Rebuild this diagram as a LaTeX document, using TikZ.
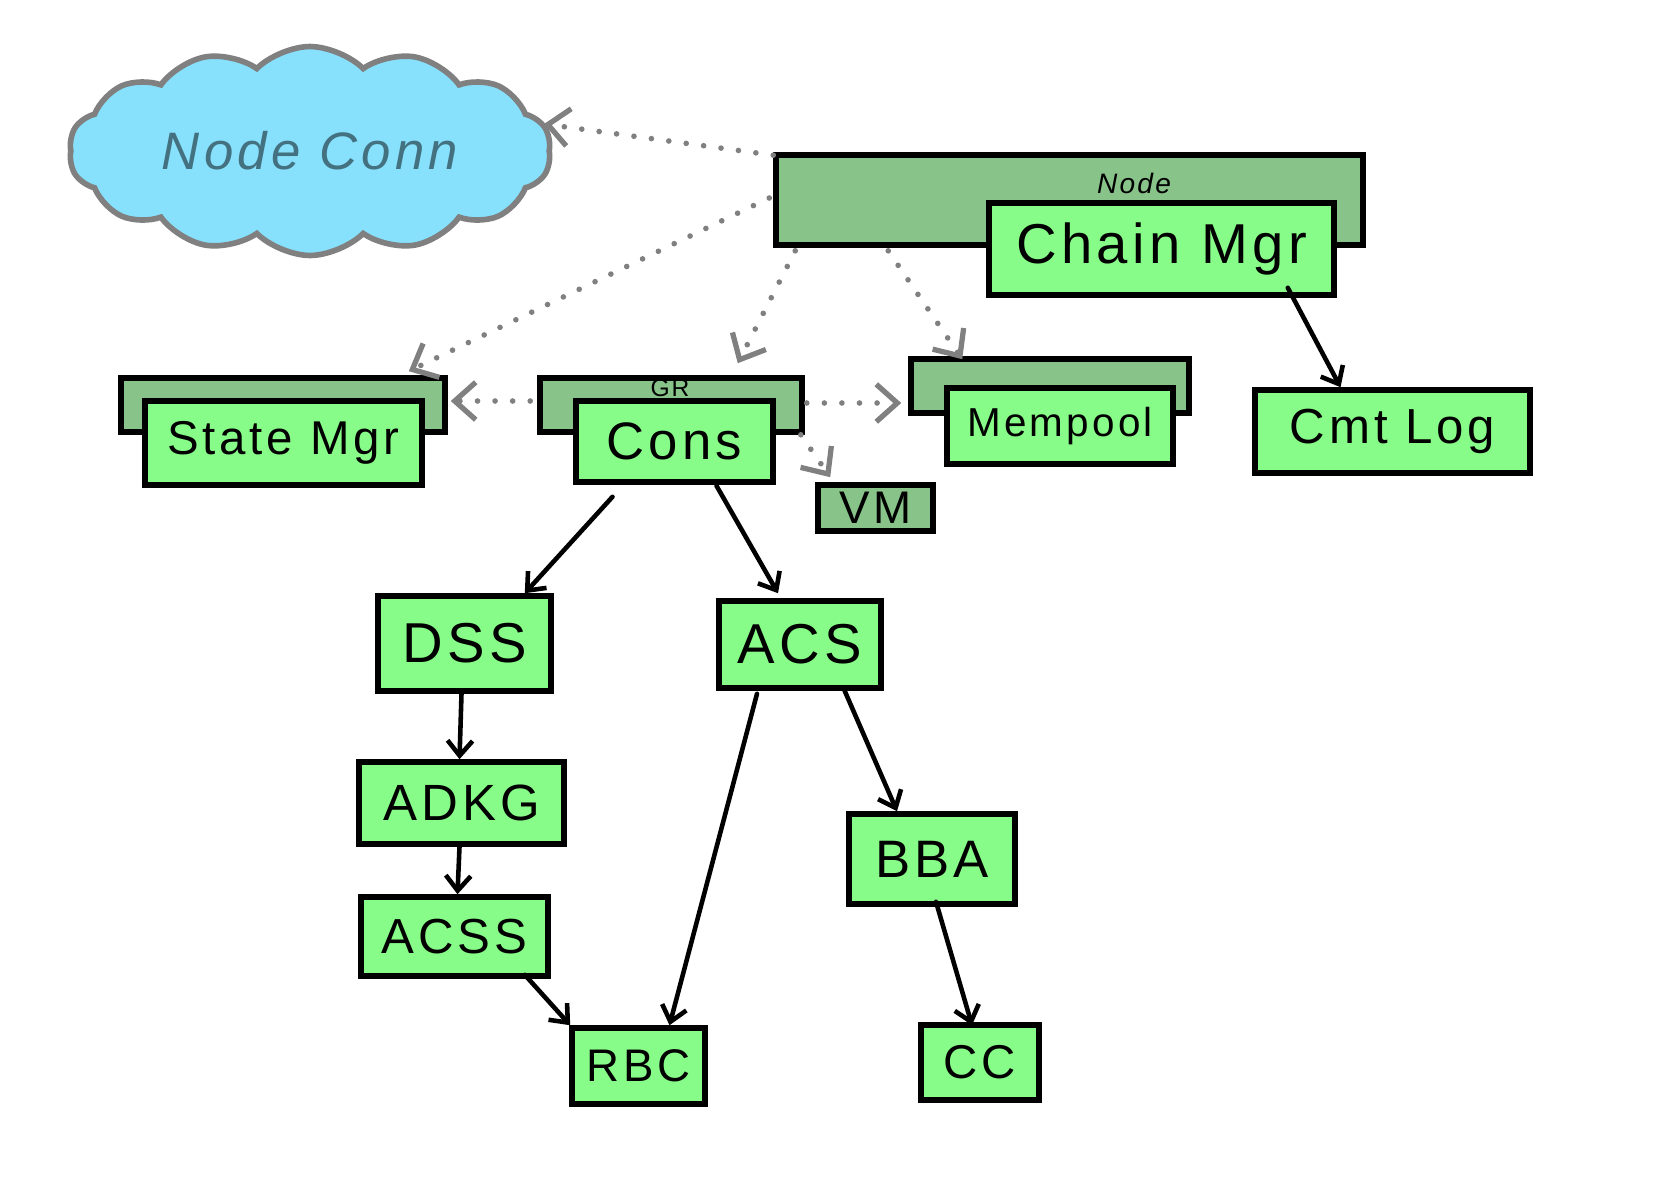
\documentclass[tikz,border=0pt]{standalone}
\usepackage{fontspec}
\setmainfont{Liberation Sans}[LetterSpace=8]
\usetikzlibrary{shapes.symbols,arrows.meta,calc}
\definecolor{lgreen}{RGB}{136,252,136}
\definecolor{dgreen}{RGB}{136,195,138}
\definecolor{cloudblue}{RGB}{135,224,252}
\definecolor{cloudtext}{RGB}{68,113,127}
\definecolor{linegray}{RGB}{128,128,128}
\tikzset{
  box/.style={draw=black,line width=3.2pt,fill=lgreen,inner sep=0pt,rectangle},
  outerbox/.style={draw=black,line width=3.2pt,fill=dgreen,inner sep=0pt,rectangle},
  dotarrow/.style={draw=linegray,line width=3.2pt,line cap=round,dash pattern=on 0pt off 10pt,
    -{Straight Barb[length=0.42cm,width=0.75cm,line width=3pt]}},
  solidarrow/.style={draw=black,line width=2.6pt,line cap=round,
    -{Straight Barb[length=0.3cm,width=0.5cm,line width=2.6pt]}}
}
\begin{document}
\begin{tikzpicture}[x=0.02cm,y=-0.02cm]
\useasboundingbox (0,0) rectangle (1654,1181);
\fill[white] (0,0) rectangle (1654,1181);

% cloud
\node[cloud,cloud puffs=14,cloud puff arc=90,aspect=2.4,draw=linegray,line width=3.2pt,
  fill=cloudblue,minimum width=9.64cm,minimum height=4.18cm,inner sep=0pt,text=cloudtext,
  font=\fontsize{30}{30}\selectfont\itshape] (conn) at (310,151) {Node Conn};

% Node group
\node[outerbox,minimum width=11.74cm,minimum height=1.8cm] (nodeouter) at (1069.5,200) {};
\node[font=\fontsize{16}{16}\selectfont\itshape] (nodelbl) at (1134,183) {Node};
\node[box,minimum width=6.9cm,minimum height=1.84cm,font=\fontsize{32}{32}\selectfont] (chain) at (1161.5,249) {Chain Mgr};

% State Mgr
\node[outerbox,minimum width=6.48cm,minimum height=1.08cm] (smouter) at (283,405) {};
\node[box,minimum width=5.54cm,minimum height=1.68cm,font=\fontsize{27}{27}\selectfont] (sm) at (283.5,443) {State Mgr};

% GR / Cons
\node[outerbox,minimum width=5.24cm,minimum height=1.08cm] (grouter) at (671,405) {};
\node[font=\fontsize{14}{14}\selectfont] (grlbl) at (670,388) {GR};
\node[box,minimum width=3.94cm,minimum height=1.62cm,font=\fontsize{30}{30}\selectfont] (cons) at (674.5,441.5) {Cons};

% Mempool
\node[outerbox,minimum width=5.56cm,minimum height=1.08cm] (mpouter) at (1050,386) {};
\node[box,minimum width=4.52cm,minimum height=1.52cm,font=\fontsize{23}{23}\selectfont] (mp) at (1060,426) {Mempool};

% VM
\node[outerbox,minimum width=2.3cm,minimum height=0.92cm,font=\fontsize{26}{26}\selectfont] (vm) at (875.5,508) {VM};

% Cmt Log
\node[box,minimum width=5.5cm,minimum height=1.66cm,font=\fontsize{28}{28}\selectfont] (cmt) at (1392.5,431.5) {Cmt Log};

% lower nodes
\node[box,minimum width=3.46cm,minimum height=1.9cm,font=\fontsize{32}{32}\selectfont] (dss) at (464.5,643.5) {DSS};
\node[box,minimum width=3.24cm,minimum height=1.74cm,font=\fontsize{32}{32}\selectfont] (acs) at (800,644.5) {ACS};
\node[box,minimum width=4.1cm,minimum height=1.64cm,font=\fontsize{29}{29}\selectfont] (adkg) at (461.5,803) {ADKG};
\node[box,minimum width=3.74cm,minimum height=1.58cm,font=\fontsize{28}{28}\selectfont] (acss) at (454.5,936.5) {ACSS};
\node[box,minimum width=2.66cm,minimum height=1.52cm,font=\fontsize{26}{26}\selectfont] (rbc) at (638.5,1066) {RBC};
\node[box,minimum width=3.32cm,minimum height=1.8cm,font=\fontsize{30}{30}\selectfont] (bba) at (932,859) {BBA};
\node[box,minimum width=2.36cm,minimum height=1.5cm,font=\fontsize{27}{27}\selectfont] (cc) at (980,1062.5) {CC};

% dotted connectors
\draw[dotarrow] ($(nodeouter.north west)+(0,3)$) -- ($(conn.east)+(-8,-27)$);
\draw[dotarrow] ($(nodeouter.west)+(-4,-2)$) -- ($(smouter.north east)+(-39,-4)$);
\draw[dotarrow] ($(nodeouter.south west)+(22,3)$) -- ($(grouter.north east)+(-67,-12)$);
\draw[dotarrow] ($(nodeouter.south west)+(115,3)$) -- ($(mpouter.north west)+(54,3)$);
\draw[dotarrow] ($(grouter.west)+(-7,-4)$) -- ($(smouter.east)+(3,-4)$);
\draw[dotarrow] ($(grouter.east)+(2,-2)$) -- ($(mpouter.west)+(-7,17)$);
\draw[dotarrow] ($(grouter.south east)+(-4,0)$) -- ($(vm.north west)+(15,-5)$);

% solid connectors
\draw[solidarrow] ($(chain.south east)+(-49,-10)$) -- ($(cmt.north)+(-52,0)$);
\draw[solidarrow] ($(cons.south)+(-62,12)$) -- ($(dss.north east)+(-29,0)$);
\draw[solidarrow] ($(cons.south)+(42,1)$) -- ($(acs.north)+(-22,-5)$);
\draw[solidarrow] ($(dss.south)+(-3,0)$) -- ($(adkg.north)+(-2,0)$);
\draw[solidarrow] ($(adkg.south)+(-2,0)$) -- ($(acss.north)+(3,0)$);
\draw[solidarrow] ($(acss.south east)+(-26,-4)$) -- ($(rbc.north west)+(1,0)$);
\draw[solidarrow] ($(acs.south)+(-43,3)$) -- ($(rbc.north)+(31,0)$);
\draw[solidarrow] ($(acs.south east)+(-40,-2)$) -- ($(bba.north)+(-35,0)$);
\draw[solidarrow] ($(bba.south)+(4,-5)$) -- ($(cc.north)+(-8,3)$);
\end{tikzpicture}
\end{document}
